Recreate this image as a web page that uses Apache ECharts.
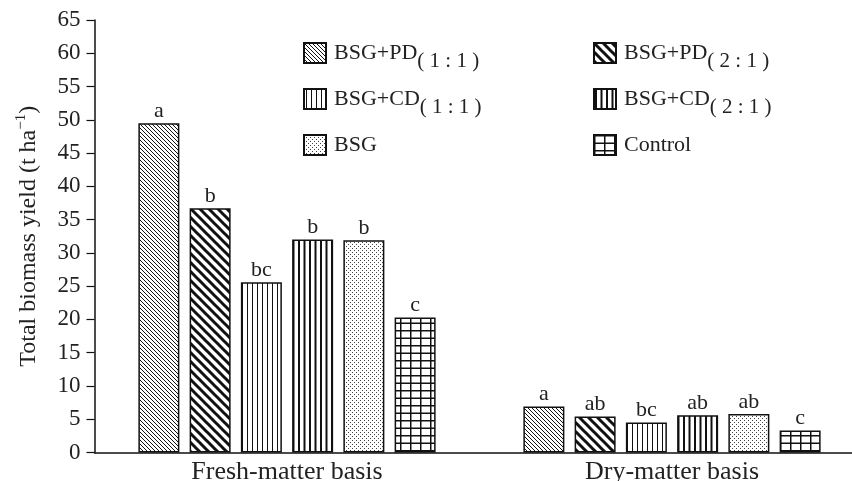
<!DOCTYPE html>
<html>
<head>
<meta charset="utf-8">
<script src="https://cdn.jsdelivr.net/npm/echarts@6/dist/echarts.min.js"></script>
<style>
html,body{margin:0;padding:0;background:#fff;}
#chart{width:852px;height:481px;}
</style>
</head>
<body>
<div id="chart"></div>
<script>
// ---- data ----
const categories = ['Fresh-matter basis', 'Dry-matter basis'];
const seriesNames = ['BSG+PD(1:1)', 'BSG+PD(2:1)', 'BSG+CD(1:1)', 'BSG+CD(2:1)', 'BSG', 'Control'];
const pd11 = [49.5, 6.9];
const pd21 = [36.7, 5.4];
const cd11 = [25.6, 4.5];
const cd21 = [32.0, 5.6];
const bsg = [31.9, 5.8];
const control = [20.3, 3.3];
const pd11Letters = ['a', 'a'];
const pd21Letters = ['b', 'ab'];
const cd11Letters = ['bc', 'bc'];
const cd21Letters = ['b', 'ab'];
const bsgLetters = ['b', 'ab'];
const controlLetters = ['c', 'c'];
const yTicks = {min: 0, max: 65, interval: 5};

// ---- patterns ----
const INK = '#111';
function pattern(w, h, draw) {
  const c = document.createElement('canvas');
  c.width = w; c.height = h;
  const ctx = c.getContext('2d');
  ctx.fillStyle = '#fff';
  ctx.fillRect(0, 0, w, h);
  ctx.fillStyle = INK;
  ctx.strokeStyle = INK;
  draw(ctx, w, h);
  return {image: c, repeat: 'repeat'};
}
function diag(s, lw) {
  return pattern(s, s, function (ctx, w) {
    ctx.lineWidth = lw;
    for (let k = -w; k <= w; k += w) {
      ctx.beginPath();
      ctx.moveTo(-2, -2 + k);
      ctx.lineTo(w + 2, w + 2 + k);
      ctx.stroke();
    }
  });
}
const patPD11 = diag(4, 1);
const patPD21 = diag(9, 3);
const patCD11 = pattern(5, 2, function (ctx) { ctx.fillRect(2, 0, 1, 2); });
const patCD21 = pattern(11, 2, function (ctx) { ctx.fillRect(1, 0, 2, 2); ctx.fillRect(6.5, 0, 2, 2); });
const patBSG = pattern(4, 4, function (ctx) {
  ctx.fillStyle = '#444';
  ctx.fillRect(0, 0, 1, 1); ctx.fillRect(2, 2, 1, 1);
});
const patCtrl = pattern(10, 15, function (ctx) {
  ctx.fillRect(0, 0, 1.5, 15);
  ctx.fillRect(0, 0, 10, 1.5);
  ctx.fillRect(0, 7.5, 10, 1.5);
});

const FONT = 'Liberation Serif';
const seriesData = [pd11, pd21, cd11, cd21, bsg, control];
const seriesLetters = [pd11Letters, pd21Letters, cd11Letters, cd21Letters, bsgLetters, controlLetters];
const seriesPatterns = [patPD11, patPD21, patCD11, patCD21, patBSG, patCtrl];

const series = seriesNames.map(function (name, i) {
  return {
    name: name,
    type: 'bar',
    data: seriesData[i],
    barWidth: 41,
    barGap: '25%',
    itemStyle: {color: seriesPatterns[i], borderColor: INK, borderWidth: 1.5},
    label: {
      show: true, position: 'top', distance: 1,
      fontFamily: FONT, fontSize: 22, color: '#222',
      formatter: function (p) { return seriesLetters[i][p.dataIndex]; }
    },
    emphasis: {disabled: true}
  };
});

function legendFormatter(name) {
  const m = name.match(/^(.*?)\((\d):(\d)\)$/);
  if (m) return '{m|' + m[1] + '}{s|( ' + m[2] + ' : ' + m[3] + ' )}';
  return '{m|' + name + '}';
}
const legendRich = {
  m: {fontFamily: FONT, fontSize: 22, color: '#222', lineHeight: 22, padding: [8, 0, 8, 3]},
  s: {fontFamily: FONT, fontSize: 21, color: '#222', lineHeight: 22, padding: [16, 0, 0, 0]}
};
function makeLegend(data, left) {
  return {
    data: data, orient: 'vertical', left: left, top: 34, padding: 0,
    itemWidth: 22, itemHeight: 20, itemGap: 8, icon: 'rect',
    selectedMode: false,
    formatter: legendFormatter,
    textStyle: {rich: legendRich}
  };
}

const chart = echarts.init(document.getElementById('chart'), null, {renderer: 'canvas'});
chart.setOption({
  backgroundColor: '#fff',
  animation: false,
  legend: [
    makeLegend([seriesNames[0], seriesNames[2], seriesNames[4]], 303),
    makeLegend([seriesNames[1], seriesNames[3], seriesNames[5]], 593)
  ],
  grid: {left: 94.5, right: -12.5, top: 20, bottom: 28.5, containLabel: false, outerBoundsMode: 'none'},
  xAxis: {
    type: 'category', data: categories,
    axisLine: {lineStyle: {color: INK, width: 1.5}},
    axisTick: {show: false},
    axisLabel: {fontFamily: FONT, fontSize: 26, color: '#222', margin: 7}
  },
  yAxis: {
    type: 'value', min: yTicks.min, max: yTicks.max, interval: yTicks.interval,
    name: 'Total biomass yield (t ha{sup|\u22121})',
    nameLocation: 'middle', nameGap: 50,
    nameTextStyle: {
      fontFamily: FONT, fontSize: 24, color: '#222',
      rich: {
        sup: {fontFamily: FONT, fontSize: 15, color: '#222', lineHeight: 16, padding: [0, 0, 14, 0]}
      },
      lineHeight: 24, padding: [4, 0, 4, 0]
    },
    axisLine: {show: true, lineStyle: {color: INK, width: 1.5}},
    axisTick: {show: true, length: 8, lineStyle: {color: INK, width: 1.2}},
    axisLabel: {fontFamily: FONT, fontSize: 23, color: '#222', margin: 14},
    splitLine: {show: false}
  },
  series: series
});
</script>
</body>
</html>
